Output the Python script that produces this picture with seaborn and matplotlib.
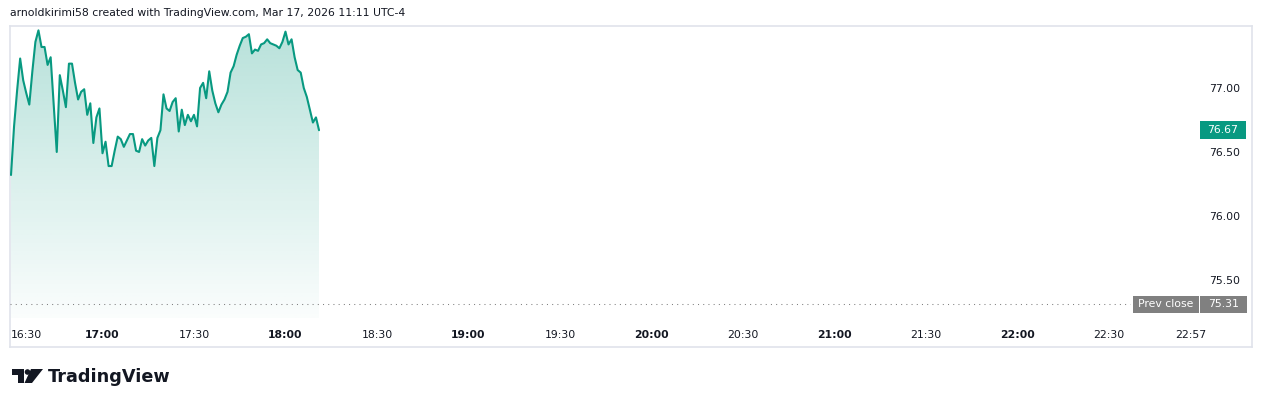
import numpy as np
import pandas as pd
import matplotlib
matplotlib.use("Agg")
import matplotlib.pyplot as plt
import matplotlib.transforms as mtransforms
from matplotlib.patches import Rectangle, Polygon, Circle
import seaborn as sns

# minute closes from 16:30 onwards
start_time = "16:30"
prices = [
    76.32, 76.70, 76.98, 77.23, 77.06, 76.96, 76.87, 77.13, 77.36, 77.45,
    77.32, 77.32, 77.18, 77.24, 76.87, 76.50, 77.10, 76.98, 76.85, 77.19,
    77.19, 77.04, 76.91, 76.97, 76.99, 76.79, 76.88, 76.57, 76.77, 76.84,
    76.49, 76.58, 76.39, 76.39, 76.51, 76.62, 76.60, 76.54, 76.59, 76.64,
    76.64, 76.51, 76.50, 76.60, 76.55, 76.59, 76.61, 76.39, 76.61, 76.67,
    76.95, 76.84, 76.82, 76.89, 76.92, 76.66, 76.83, 76.71, 76.79, 76.74,
    76.79, 76.70, 77.00, 77.04, 76.92, 77.13, 76.98, 76.88, 76.81, 76.87,
    76.91, 76.97, 77.12, 77.17, 77.26, 77.33, 77.39, 77.40, 77.42, 77.27,
    77.30, 77.29, 77.34, 77.35, 77.38, 77.35, 77.34, 77.33, 77.31, 77.36,
    77.44, 77.34, 77.38, 77.24, 77.14, 77.12, 77.00, 76.93, 76.83, 76.73,
    76.77, 76.67,
]
prev_close = 75.31
price_ticks = [75.50, 76.00, 76.50, 77.00]
time_labels = ["16:30", "17:00", "17:30", "18:00", "18:30", "19:00", "19:30",
               "20:00", "20:30", "21:00", "21:30", "22:00", "22:30", "22:57"]
header = "arnoldkirimi58 created with TradingView.com, Mar 17, 2026 11:11 UTC-4"

GREEN = "#089981"
GREY = "#808080"
TEXT = "#131722"

sns.set_style("white")
plt.rcParams["font.family"] = ["DejaVu Sans"]

W, H = 1262, 407
fig = plt.figure(figsize=(W / 100, H / 100), dpi=100)


def px_box(x0, y0, x1, y1):
    return [x0 / W, 1 - y1 / H, (x1 - x0) / W, (y1 - y0) / H]


# outer frame
frame = fig.add_axes(px_box(10, 26, 1252, 347))
frame.set_xticks([])
frame.set_yticks([])
for s in frame.spines.values():
    s.set_color("#e0e3eb")
    s.set_linewidth(1.2)

ax = fig.add_axes(px_box(10, 26, 1197, 318))
ax.patch.set_alpha(0)
for s in ax.spines.values():
    s.set_visible(False)

t0 = pd.Timestamp("2026-03-17 " + start_time)
df = pd.DataFrame({"price": prices})
df["minute"] = np.arange(len(df))
ybot, ytop = 75.203, 77.484

# gradient area under the line
poly = ax.fill_between(df["minute"], df["price"], ybot, color="none", lw=0)
grad = np.zeros((256, 1, 4))
grad[..., :3] = matplotlib.colors.to_rgb(GREEN)
grad[:, 0, 3] = np.linspace(0.02, 0.29, 256)
im = ax.imshow(grad, extent=[df["minute"].min(), df["minute"].max(), ybot, df["price"].max()],
               origin="lower", aspect="auto", zorder=1)
im.set_clip_path(poly.get_paths()[0], transform=ax.transData)

sns.lineplot(data=df, x="minute", y="price", ax=ax, color=GREEN, lw=1.5, zorder=3)

ax.set_xlim(-0.33, 388.9)
ax.set_ylim(ybot, ytop)
ax.set_xlabel("")
ax.set_ylabel("")

# time axis
tick_pos = [(pd.Timestamp("2026-03-17 " + t) - t0).total_seconds() / 60 for t in time_labels]
ax.set_xticks(tick_pos)
ax.set_xticklabels(time_labels)
ax.tick_params(axis="x", length=0, pad=9, labelsize=7.8, labelcolor=TEXT)
for lab in ax.get_xticklabels():
    if lab.get_text().endswith(":00"):
        lab.set_fontweight("bold")
ax.get_xticklabels()[0].set_horizontalalignment("left")

# price axis
ax.yaxis.tick_right()
ax.set_yticks(price_ticks)
ax.set_yticklabels([f"{p:.2f}" for p in price_ticks])
ax.tick_params(axis="y", length=0, pad=9, labelsize=7.8, labelcolor=TEXT)

# previous close line and labels
ax.axhline(prev_close, xmin=0, xmax=0.9436, color=GREY, lw=0.75, ls=(0, (1, 4)), zorder=2)
trans = mtransforms.blended_transform_factory(ax.transAxes, ax.transData)
ax.add_patch(Rectangle((0.9461, prev_close - 0.0645), 0.0556, 0.129, transform=trans,
                       color=GREY, clip_on=False, lw=0))
ax.text(0.9739, prev_close, "Prev close", transform=trans, ha="center", va="center",
        color="white", fontsize=7.8, clip_on=False)
ax.add_patch(Rectangle((1.0025, prev_close - 0.0645), 0.0396, 0.129, transform=trans,
                       color=GREY, clip_on=False, lw=0))
ax.text(1.0223, prev_close, f"{prev_close:.2f}", transform=trans, ha="center", va="center",
        color="white", fontsize=7.8, clip_on=False)

# last price tag
last = prices[-1]
ax.add_patch(Rectangle((1.0025, last - 0.0703), 0.0388, 0.1406, transform=trans,
                       color=GREEN, clip_on=False, lw=0))
ax.text(1.0219, last, f"{last:.2f}", transform=trans, ha="center", va="center",
        color="white", fontsize=7.8, clip_on=False)

# header
fig.text(10 / W, 1 - 13 / H, header, ha="left", va="center", fontsize=7.8, color=TEXT)

# logo
logo = fig.add_axes([0, 0, 1, 1], zorder=-1)
logo.set_xlim(0, W)
logo.set_ylim(H, 0)
logo.axis("off")
logo.add_patch(Polygon([(12, 369), (24, 369), (24, 383), (17.5, 383), (17.5, 374.5), (12, 374.5)],
                       closed=True, color=TEXT, lw=0))
logo.add_patch(Circle((27.5, 372), 2.8, color=TEXT, lw=0))
logo.add_patch(Polygon([(31, 369), (43, 369), (32, 383), (24.5, 383)], closed=True, color=TEXT, lw=0))
logo.text(47.5, 376.5, "TradingView", ha="left", va="center", fontsize=12.7,
          fontweight="bold", color=TEXT)

fig.savefig("out.png", dpi=100)
